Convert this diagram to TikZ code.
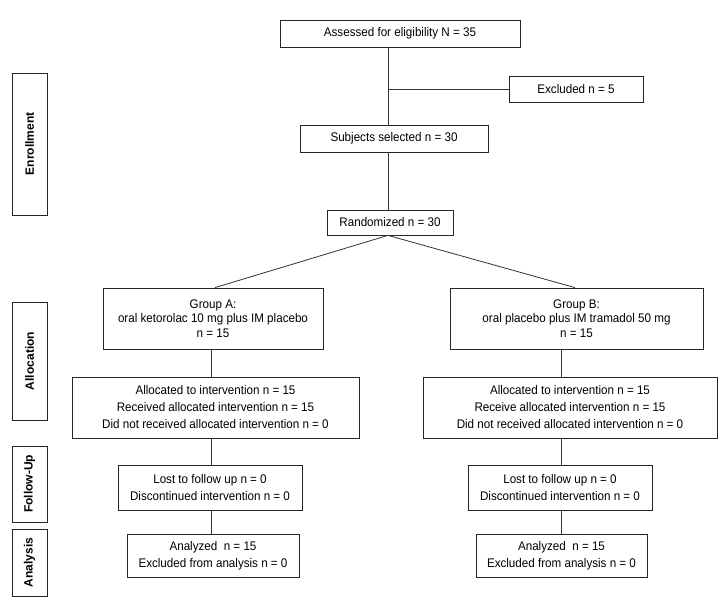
\documentclass[tikz,border=0pt]{standalone}
\usepackage{fontspec}
\setmainfont{Liberation Sans}
\newfontfamily\boxfont{Liberation Sans}[FakeStretch=0.93]
\begin{document}
\begin{tikzpicture}[x=1pt,y=-1pt,
  box/.style={draw=black!85, line width=0.8pt, align=center, inner sep=0pt,
    font=\boxfont\fontsize{12.5}{17}\selectfont},
  grp/.style={box, font=\boxfont\fontsize{12.5}{14.5}\selectfont},
  side/.style={draw=black!85, line width=0.8pt, inner sep=0pt, rotate=90,
    minimum height=35pt, font=\bfseries\fontsize{12}{14}\selectfont},
  conn/.style={draw=black!80, line width=0.8pt}]
\useasboundingbox (0,0) rectangle (725,604);

% column coordinates
\coordinate (colM) at (388,0);
\coordinate (colA) at (211,0);
\coordinate (colB) at (561,0);
\coordinate (dA) at (215,0);
\coordinate (dB) at (575,0);

% side labels
\node[side, minimum width=142pt] (enr) at (29.5,144) {Enrollment};
\node[side, minimum width=118pt] (alo) at (29.5,361) {Allocation};
\node[side, minimum width=76pt]  (fol) at (29.5,484) {Follow-Up};
\node[side, minimum width=67pt]  (ana) at (29.5,562.5) {Analysis};

% main column
\node[box, minimum width=240pt, minimum height=27pt] (assess) at (400,33.5) {Assessed for eligibility N = 35};
\node[box, minimum width=134pt, minimum height=26pt] (excl) at (576,89) {Excluded n = 5};
\node[box, minimum width=188pt, minimum height=27pt] (subj) at (394,138.5) {Subjects selected n = 30};
\node[box, minimum width=126pt, minimum height=25pt] (rand) at (390,222.5) {Randomized n = 30};

% groups
\node[grp, minimum width=220pt, minimum height=61pt] (ga) at (213,318.5) {Group A:\\oral ketorolac 10 mg plus IM placebo\\n = 15};
\node[grp, minimum width=253pt, minimum height=61pt] (gb) at (576.5,318.5) {Group B:\\oral placebo plus IM tramadol 50 mg\\n = 15};

% allocation
\node[box, minimum width=287pt, minimum height=61pt] (aa) at (215.5,407.5) {Allocated to intervention n = 15\\Received allocated intervention n = 15\\Did not received allocated intervention n = 0};
\node[box, minimum width=294pt, minimum height=61pt] (ab) at (570,407.5) {Allocated to intervention n = 15\\Receive allocated intervention n = 15\\Did not received allocated intervention n = 0};

% follow-up
\node[box, minimum width=184pt, minimum height=45pt] (fa) at (210,487.5) {Lost to follow up n = 0\\Discontinued intervention n = 0};
\node[box, minimum width=184pt, minimum height=45pt] (fb) at (560,487.5) {Lost to follow up n = 0\\Discontinued intervention n = 0};

% analysis
\node[box, minimum width=172pt, minimum height=43pt] (na) at (213,555.5) {Analyzed\ \ n = 15\\Excluded from analysis n = 0};
\node[box, minimum width=171pt, minimum height=43pt] (nb) at (561.5,555.5) {Analyzed\ \ n = 15\\Excluded from analysis n = 0};

% connectors
\draw[conn] (assess.south -| colM) -- (subj.north -| colM);
\draw[conn] (colM |- excl.west) -- (excl.west);
\draw[conn] (subj.south -| colM) -- (rand.north -| colM);
\draw[conn] (rand.south -| colM) -- (ga.north -| dA);
\draw[conn] (rand.south -| colM) -- (gb.north -| dB);
\draw[conn] (ga.south -| colA) -- (aa.north -| colA);
\draw[conn] (aa.south -| colA) -- (fa.north -| colA);
\draw[conn] (fa.south -| colA) -- (na.north -| colA);
\draw[conn] (gb.south -| colB) -- (ab.north -| colB);
\draw[conn] (ab.south -| colB) -- (fb.north -| colB);
\draw[conn] (fb.south -| colB) -- (nb.north -| colB);
\end{tikzpicture}
\end{document}
